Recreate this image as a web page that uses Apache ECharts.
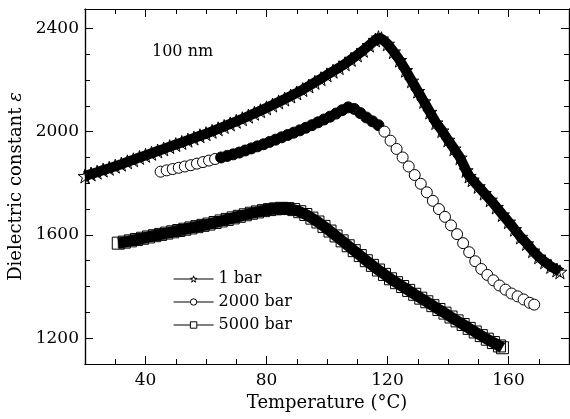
<!DOCTYPE html>
<html><head><meta charset="utf-8">
<script src="https://cdn.jsdelivr.net/npm/echarts@6/dist/echarts.min.js"></script>
<style>html,body{margin:0;padding:0;background:#fff}#c{width:570px;height:419px}</style>
</head><body><div id="c"></div>
<script>
// 1 bar
const T1 = [20,22,24,26,28,30,32,34,36,38,40,42,44,46,48,50,52,54,56,58,60,62,64,66,68,70,72,74,76,78,80,82,84,86,88,90,92,94,96,98,100,102,104,106,108,110,112,114,116,117,118,120,122,124,126,128,130,132,134,136,138,140,142,144,146,147,148,150,152,154,156,158,160,162,164,166,168,170,172,174,176,177];
const E1 = [1828,1836,1843,1851,1858,1866,1874,1883,1891,1900,1908,1916,1925,1933,1942,1950,1958,1967,1975,1984,1992,2001,2011,2020,2030,2040,2050,2060,2071,2081,2092,2103,2115,2126,2138,2150,2163,2177,2191,2205,2220,2234,2248,2263,2280,2297,2315,2335,2355,2364,2360,2340,2310,2277,2238,2197,2157,2117,2076,2035,2004,1968,1934,1899,1850,1828,1814,1788,1762,1736,1708,1679,1651,1622,1592,1567,1539,1515,1496,1478,1464,1457];
// 2000 bar
const T2 = [45,47,49,51,53,55,57,59,61,63,65,67,69,71,73,75,77,79,81,83,85,87,89,91,93,95,97,99,101,103,105,107,109,111,113,115,117,119,121,123,125,127,129,131,133,135,137,139,141,143,145,147,149,151,153,155,157,159,161,163,165,167,168.5];
const E2 = [1845,1850,1855,1860,1865,1870,1876,1882,1888,1894,1900,1906,1912,1919,1927,1935,1943,1951,1960,1969,1978,1987,1996,2005,2015,2025,2036,2047,2058,2070,2083,2094,2088,2072,2055,2040,2025,2000,1965,1933,1900,1865,1832,1798,1765,1732,1700,1670,1637,1603,1568,1533,1498,1468,1445,1424,1404,1388,1373,1362,1350,1337,1330];
// 5000 bar
const T3 = [31,33,35,37,39,41,43,45,47,49,51,53,55,57,59,61,63,65,67,69,71,73,75,77,79,81,83,85,87,89,91,93,95,97,99,101,103,105,107,109,111,113,115,117,119,121,123,125,127,129,131,133,135,137,139,141,143,145,147,149,151,153,155,157,158];
const E3 = [1568,1572,1577,1582,1587,1592,1597,1602,1607,1612,1617,1622,1627,1632,1637,1642,1648,1654,1660,1666,1672,1678,1684,1689,1694,1698,1701,1703,1702,1698,1690,1679,1665,1650,1633,1615,1596,1577,1558,1539,1520,1500,1482,1464,1447,1430,1415,1400,1385,1370,1355,1341,1326,1311,1297,1282,1267,1253,1238,1224,1210,1196,1183,1170,1163];

const seriesNames = ['1 bar','2000 bar','5000 bar'];
const xMajor = [40,80,120,160];
const yMajor = [1200,1600,2000,2400];
const xMin = 20, xMax = 180, yMin = 1100, yMax = 2475;

const FONT = 'DejaVu Serif';
const star = 'path://M50,0 L61,35 L98,35 L68,57 L79,91 L50,70 L21,91 L32,57 L2,35 L39,35 Z';

function xAx(pos, major, labels) {
  return {
    type:'value', min:xMin, max:xMax, position:pos,
    interval: 10,
    axisLine:{show:true, onZero:false, lineStyle:{color:'#000', width:1.2}},
    axisTick:{show:true, inside:true, length: major?8:5, lineStyle:{color:'#000', width:1},
      customValues: major ? xMajor : undefined},
    axisLabel:{show:labels, margin:8, fontFamily:FONT, fontSize:17, color:'#000',
      customValues: xMajor, formatter: v => String(v)},
    splitLine:{show:false},
    name: labels ? 'Temperature (°C)' : '',
    nameLocation:'middle', nameGap:27,
    nameTextStyle:{fontFamily:FONT, fontSize:18, color:'#000'}
  };
}
function yAx(pos, major, labels) {
  return {
    type:'value', min:yMin, max:yMax, position:pos,
    interval: 100,
    axisLine:{show:true, onZero:false, lineStyle:{color:'#000', width:1.2}},
    axisTick:{show:true, inside:true, length: major?8:5, lineStyle:{color:'#000', width:1},
      customValues: major ? yMajor : undefined},
    axisLabel:{show:labels, margin:6, fontFamily:FONT, fontSize:17, color:'#000',
      customValues: yMajor, formatter: v => String(v)},
    splitLine:{show:false},
    name: labels ? 'Dielectric constant {i|ε}' : '',
    nameLocation:'middle', nameGap:50, nameRotate:90,
    nameTextStyle:{fontFamily:FONT, fontSize:18, color:'#000',
      rich:{i:{fontFamily:FONT, fontSize:18, fontStyle:'italic', color:'#000'}}}
  };
}

function mk(name, T, E, symbol, size, fill, lineW, darkRange) {
  return {
    name, type:'line', xAxisIndex:0, yAxisIndex:0,
    data: T.map((t,i)=>{
      const d = {value:[t,E[i]]};
      if (darkRange && t >= darkRange[0] && t <= darkRange[1]) d.itemStyle = {color:'#000'};
      return d;
    }),
    symbol, symbolSize:size, showAllSymbol:true,
    itemStyle:{color:fill, borderColor:'#000', borderWidth:1},
    lineStyle:{color:'#000', width:lineW},
    animation:false
  };
}

const chart = echarts.init(document.getElementById('c'));
chart.setOption({
  backgroundColor:'#fff',
  animation:false,
  grid:{left:85, right:1, top:9, bottom:55, containLabel:false, outerBoundsMode:'none'},
  title:{text:'100 nm', left:147, top:39,
    textStyle:{fontFamily:FONT, fontSize:16, fontWeight:'normal', color:'#000'}},
  legend:{
    orient:'vertical', left:168, top:266,
    itemWidth:40, itemHeight:8, itemGap:7,
    data: seriesNames,
    itemStyle:{color:'#fff', borderColor:'#000', borderWidth:1},
    lineStyle:{color:'#000', width:1.2},
    textStyle:{fontFamily:FONT, fontSize:16, color:'#000', lineHeight:16}
  },
  xAxis:[xAx('bottom', false, true), xAx('bottom', true, false), xAx('top', false, false), xAx('top', true, false)],
  yAxis:[yAx('left', false, true), yAx('left', true, false), yAx('right', false, false), yAx('right', true, false)],
  series:[
    mk(seriesNames[0], T1, E1, star, 14, 'rgba(255,255,255,0)', 10),
    mk(seriesNames[1], T2, E2, 'circle', 11, '#fff', 1, [64, 117]),
    mk(seriesNames[2], T3, E3, 'rect', 12, 'rgba(255,255,255,0)', 11)
  ]
});
</script></body></html>
